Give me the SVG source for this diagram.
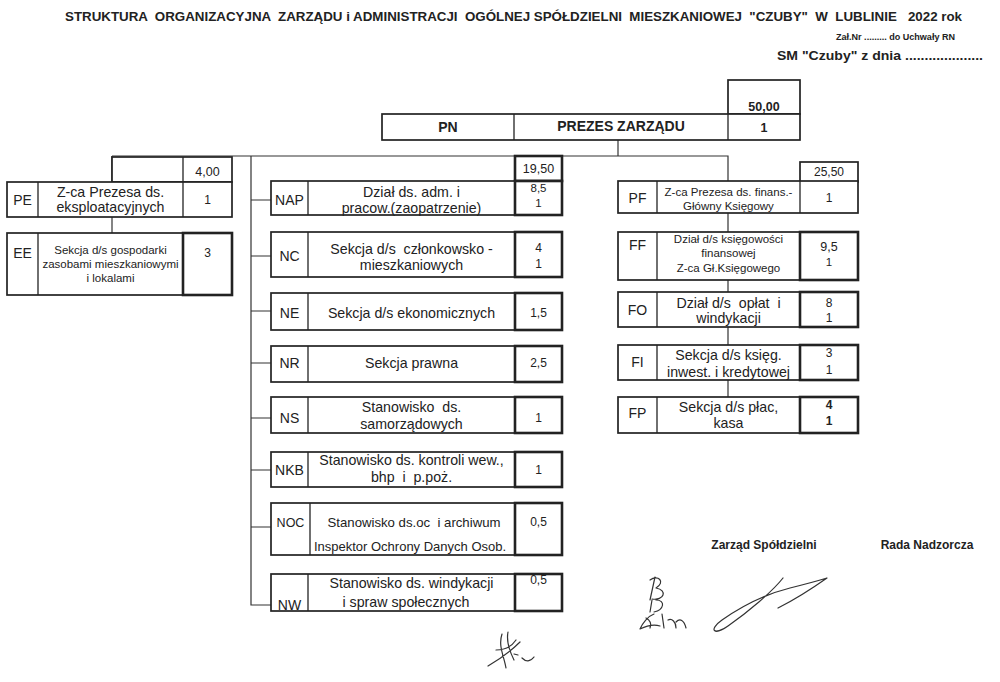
<svg xmlns="http://www.w3.org/2000/svg" width="1000" height="682" viewBox="0 0 1000 682" xml:space="preserve">
<style>
.bg{fill:#ffffff}
.box{fill:#ffffff;stroke:#222;stroke-width:1.7}
.num{fill:none;stroke:#222;stroke-width:2.6}
.dv{stroke:#222;stroke-width:1.3}
.con{stroke:#333;stroke-width:1.2;fill:none}
.sig{stroke:#333;stroke-width:1.2;fill:none;stroke-linecap:round;stroke-linejoin:round}
text{font-family:"Liberation Sans",Arial,sans-serif;fill:#222;text-anchor:middle;white-space:pre}
.hd{font-family:"Liberation Sans Narrow","Liberation Sans",Arial,sans-serif;font-weight:bold;text-anchor:start}
.b{font-weight:bold}
.f14{font-size:14px}
.f13{font-size:14.2px}
.f125{font-size:12.5px}
.f12{font-size:12px}
.f11{font-size:11.5px}
</style>
<rect class="bg" x="0" y="0" width="1000" height="682"/>

<g id="header">
<text class="hd" x="65" y="21" font-size="12" textLength="897" lengthAdjust="spacingAndGlyphs">STRUKTURA  ORGANIZACYJNA  ZARZĄDU i ADMINISTRACJI  OGÓLNEJ SPÓŁDZIELNI  MIESZKANIOWEJ  "CZUBY"  W  LUBLINIE   2022 rok</text>
<text class="hd" x="836" y="40" font-size="9.5" textLength="119" lengthAdjust="spacingAndGlyphs">Zał.Nr ......... do Uchwały RN</text>
<text class="hd" x="777" y="60" font-size="13" textLength="206" lengthAdjust="spacingAndGlyphs">SM "Czuby" z dnia ....................</text>
</g>

<g id="connectors">
<path class="con" d="M618 140 V156"/>
<path class="con" d="M112 156 H728 V181"/>
<path class="con" d="M112 156 V182"/>
<path class="con" d="M112 217 V233"/>
<path class="con" d="M251 156 V605 H271"/>
<path class="con" d="M251 200 H271 M251 256 H271 M251 311 H271 M251 363 H271 M251 418 H271 M251 470 H271 M251 527 H271"/>
<path class="con" d="M728 213 V232 M728 280 V292 M728 327 V345 M728 380 V397"/>
</g>

<g id="PN">
<rect class="box" x="728" y="80" width="72" height="34" stroke-width="2.2"/>
<text class="b f125" x="764" y="111">50,00</text>
<rect class="box" x="382" y="114" width="418" height="26" stroke-width="2.6"/>
<line class="dv" x1="514" y1="114" x2="514" y2="140"/>
<line class="dv" x1="728" y1="114" x2="728" y2="140"/>
<text class="b f14" x="448" y="132">PN</text>
<text class="b f14" x="621" y="131">PREZES ZARZĄDU</text>
<text class="b f125" x="764" y="132">1</text>
</g>

<g id="PE">
<rect class="box" x="112" y="157" width="120" height="25"/>
<line class="dv" x1="183" y1="157" x2="183" y2="182"/>
<text class="f125" x="207.5" y="176">4,00</text>
<rect class="box" x="7" y="182" width="225" height="35" stroke-width="2.4"/>
<line class="dv" x1="38" y1="182" x2="38" y2="217"/>
<line class="dv" x1="183" y1="182" x2="183" y2="217"/>
<text class="f14" x="22.5" y="205">PE</text>
<text class="f13" x="110.5" y="196.5">Z-ca Prezesa ds.</text>
<text class="f13" x="110.5" y="212">eksploatacyjnych</text>
<text class="f12" x="207.5" y="204">1</text>
</g>

<g id="EE">
<rect class="box" x="7" y="233" width="225" height="62"/>
<line class="dv" x1="38" y1="233" x2="38" y2="295"/>
<rect class="num" x="183" y="233" width="49" height="62"/>
<text class="f14" x="22.5" y="258">EE</text>
<text class="f11" x="110.5" y="254">Sekcja d/s gospodarki</text>
<text class="f11" x="110.5" y="268">zasobami mieszkaniowymi</text>
<text class="f11" x="110.5" y="282">i lokalami</text>
<text class="f12" x="207.5" y="257">3</text>
</g>

<g id="NAP">
<rect class="num" x="515" y="156" width="47" height="25"/>
<text class="f125" x="538.5" y="173">19,50</text>
<rect class="box" x="271" y="181" width="291" height="34"/>
<line class="dv" x1="308" y1="181" x2="308" y2="215"/>
<rect class="num" x="515" y="181" width="47" height="34"/>
<text class="f14" x="289.5" y="205">NAP</text>
<text class="f13" x="411.5" y="197">Dział ds. adm. i</text>
<text class="f13" x="411.5" y="213">pracow.(zaopatrzenie)</text>
<text class="f11" x="538.5" y="192">8,5</text>
<text class="f11" x="538.5" y="207">1</text>
</g>

<g id="NC">
<rect class="box" x="271" y="232" width="291" height="45"/>
<line class="dv" x1="308" y1="232" x2="308" y2="277"/>
<rect class="num" x="515" y="232" width="47" height="45"/>
<text class="f14" x="289.5" y="261">NC</text>
<text class="f13" x="411.5" y="254">Sekcja d/s  członkowsko -</text>
<text class="f13" x="411.5" y="270">mieszkaniowych</text>
<text class="f12" x="538.5" y="252">4</text>
<text class="f12" x="538.5" y="268">1</text>
</g>

<g id="NE">
<rect class="box" x="271" y="293" width="291" height="37"/>
<line class="dv" x1="308" y1="293" x2="308" y2="330"/>
<rect class="num" x="515" y="293" width="47" height="37"/>
<text class="f14" x="289.5" y="318">NE</text>
<text class="f13" x="411.5" y="318">Sekcja d/s ekonomicznych</text>
<text class="f12" x="538.5" y="317">1,5</text>
</g>

<g id="NR">
<rect class="box" x="271" y="346" width="291" height="36"/>
<line class="dv" x1="308" y1="346" x2="308" y2="382"/>
<rect class="num" x="515" y="346" width="47" height="36"/>
<text class="f14" x="289.5" y="368">NR</text>
<text class="f13" x="411.5" y="368">Sekcja prawna</text>
<text class="f12" x="538.5" y="367">2,5</text>
</g>

<g id="NS">
<rect class="box" x="271" y="397" width="291" height="36"/>
<line class="dv" x1="308" y1="397" x2="308" y2="433"/>
<rect class="num" x="515" y="397" width="47" height="36"/>
<text class="f14" x="289.5" y="423">NS</text>
<text class="f13" x="411.5" y="412">Stanowisko  ds.</text>
<text class="f13" x="411.5" y="429">samorządowych</text>
<text class="f12" x="538.5" y="422">1</text>
</g>

<g id="NKB">
<rect class="box" x="271" y="452" width="291" height="35"/>
<line class="dv" x1="308" y1="452" x2="308" y2="487"/>
<rect class="num" x="515" y="452" width="47" height="35"/>
<text class="f14" x="289.5" y="475">NKB</text>
<text class="f13" x="411.5" y="465">Stanowisko ds. kontroli wew.,</text>
<text class="f13" x="411.5" y="482">bhp  i  p.poż.</text>
<text class="f12" x="538.5" y="474">1</text>
</g>

<g id="NOC">
<rect class="box" x="271" y="503" width="291" height="52"/>
<line class="dv" x1="310" y1="503" x2="310" y2="555"/>
<rect class="num" x="515" y="503" width="47" height="52"/>
<text class="f125" x="290.5" y="527">NOC</text>
<text x="414" y="527" font-size="13.2">Stanowisko ds.oc  i archiwum</text>
<text x="410" y="551" font-size="13">Inspektor Ochrony Danych Osob.</text>
<text class="f12" x="538.5" y="526">0,5</text>
</g>

<g id="NW">
<rect class="box" x="271" y="574" width="291" height="37"/>
<line class="dv" x1="308" y1="574" x2="308" y2="611"/>
<rect class="num" x="515" y="574" width="47" height="37"/>
<text class="f14" x="289.5" y="610">NW</text>
<text class="f13" x="411.5" y="588">Stanowisko ds. windykacji</text>
<text class="f13" x="406" y="607">i spraw społecznych</text>
<text class="f12" x="538.5" y="584">0,5</text>
</g>

<g id="PF">
<rect class="box" x="800" y="162" width="58" height="20"/>
<text class="f12" x="829" y="176">25,50</text>
<rect class="box" x="618" y="181" width="240" height="32" stroke-width="2.4"/>
<line class="dv" x1="657" y1="181" x2="657" y2="213"/>
<line class="dv" x1="800" y1="181" x2="800" y2="213"/>
<text class="f14" x="637.5" y="203">PF</text>
<text class="f11" x="728.5" y="196">Z-ca Prezesa ds. finans.-</text>
<text class="f11" x="728.5" y="210">Główny Księgowy</text>
<text class="f12" x="829" y="202">1</text>
</g>

<g id="FF">
<rect class="box" x="618" y="232" width="240" height="48"/>
<line class="dv" x1="657" y1="232" x2="657" y2="280"/>
<rect class="num" x="800" y="232" width="58" height="48"/>
<text class="f14" x="637.5" y="250">FF</text>
<text class="f11" x="728.5" y="243">Dział d/s księgowości</text>
<text class="f11" x="728.5" y="257">finansowej</text>
<text class="f11" x="728.5" y="272">Z-ca Gł.Księgowego</text>
<text class="f125" x="829" y="251">9,5</text>
<text class="f11" x="829" y="266">1</text>
</g>

<g id="FO">
<rect class="box" x="618" y="292" width="240" height="35"/>
<line class="dv" x1="657" y1="292" x2="657" y2="327"/>
<rect class="num" x="800" y="292" width="58" height="35"/>
<text class="f14" x="637.5" y="315">FO</text>
<text class="f13" x="728.5" y="308">Dział d/s  opłat  i</text>
<text class="f13" x="728.5" y="323">windykacji</text>
<text class="f12" x="829" y="307">8</text>
<text class="f12" x="829" y="322">1</text>
</g>

<g id="FI">
<rect class="box" x="618" y="345" width="240" height="35"/>
<line class="dv" x1="657" y1="345" x2="657" y2="380"/>
<rect class="num" x="800" y="345" width="58" height="35"/>
<text class="f14" x="637.5" y="367">FI</text>
<text class="f13" x="728.5" y="360">Sekcja d/s księg.</text>
<text class="f13" x="728.5" y="377">inwest. i kredytowej</text>
<text class="f12" x="829" y="357">3</text>
<text class="f12" x="829" y="374">1</text>
</g>

<g id="FP">
<rect class="box" x="618" y="397" width="240" height="36"/>
<line class="dv" x1="657" y1="397" x2="657" y2="433"/>
<rect class="num" x="800" y="397" width="58" height="36"/>
<text class="f14" x="637.5" y="418">FP</text>
<text class="f13" x="728.5" y="412">Sekcja d/s płac,</text>
<text class="f13" x="728.5" y="428">kasa</text>
<text class="f12 b" x="829" y="409">4</text>
<text class="f12 b" x="829" y="425">1</text>
</g>

<g id="signatures">
<text class="b f12" x="764" y="549">Zarząd Spółdzielni</text>
<text class="b f12" x="927" y="549">Rada Nadzorcza</text>
<path class="sig" d="M650 580 C658 574 666 582 656 588 C668 590 664 601 652 599 M655 577 L650 600 M656 600 C666 600 664 610 654 612 M652 600 L650 612"/>
<path class="sig" d="M654 614 C648 616 642 624 640 629 C646 626 654 624 660 626 M646 618 C650 620 652 624 650 628 M662 614 L664 628 M668 620 C672 618 676 622 676 628 M676 622 C680 618 684 620 686 628"/>
<path class="sig" d="M783 578 C772 592 748 612 728 626 C714 636 708 630 722 620 C742 606 766 594 790 588 C802 585 814 582 827 578 C810 590 794 600 778 608"/>
<path class="sig" d="M502 634 C498 646 504 656 506 668 M508 632 C506 642 510 652 514 660 M496 650 C506 650 512 646 516 640 M488 666 C498 660 510 652 520 642 M514 654 L518 655 M522 658 C526 662 530 662 534 657"/>
</g>
</svg>
